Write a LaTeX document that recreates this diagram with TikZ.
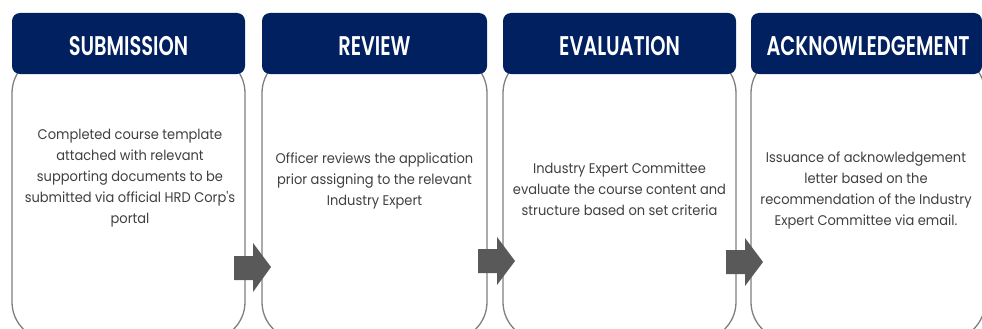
\documentclass[tikz,border=0pt]{standalone}
\usepackage{fontspec}
\setmainfont{Poppins}
\newfontfamily\headfont[FakeStretch=0.72]{Poppins SemiBold}
\newfontfamily\bodyfont[FakeStretch=0.93]{Poppins}
\definecolor{navy}{HTML}{002060}
\definecolor{boxline}{HTML}{7F7F7F}
\definecolor{arrowgray}{HTML}{595959}
\definecolor{txt}{HTML}{404040}
\tikzset{
  headtext/.style={text=white, font=\headfont\fontsize{27}{30}\selectfont, inner sep=0pt},
  headbox/.style={fill=navy, rounded corners=8pt},
  bodybox/.style={draw=boxline, line width=1.3pt, fill=white, rounded corners=38pt},
  bodytext/.style={align=center, text=txt, font=\bodyfont\fontsize{14}{21}\selectfont, inner sep=0pt},
  blockarrow/.style={fill=arrowgray}
}
\begin{document}
\begin{tikzpicture}[x=1pt,y=-1pt]
\useasboundingbox (0,0) rectangle (982,329);
\clip (0,0) rectangle (982,329);
\foreach \n/\l/\r/\br in {1/12/245/245, 2/262/487/487, 3/503/736/736, 4/751/982/985}{
  \draw[bodybox] (\l,55) rectangle (\br,340);
  \fill[headbox] (\l,13) rectangle (\r,74);
}
\node[headtext] (h1) at (128.5,46.5) {SUBMISSION};
\node[headtext] (h2) at (374.5,46.5) {REVIEW};
\node[headtext] (h3) at (619.5,46.5) {EVALUATION};
\node[headtext] (h4) at (868,46.5) {ACKNOWLEDGEMENT};
\node[bodytext] (t1) at (130,178) {Completed course template\\attached with relevant\\supporting documents to be\\submitted via official HRD Corp's\\portal};
\node[bodytext] (t2) at (374.5,181) {Officer reviews the application\\prior assigning to the relevant\\Industry Expert};
\node[bodytext] (t3) at (619.5,189) {Industry Expert Committee\\evaluate the course content and\\structure based on set criteria};
\node[bodytext] (t4) at (866,190) {Issuance of acknowledgement\\letter based on the\\recommendation of the Industry\\Expert Committee via email.};
\fill[blockarrow] (234,256) -- (253,256) -- (253,243) -- (271,267) -- (253,292) -- (253,280) -- (234,280) -- cycle;
\fill[blockarrow] (478,249) -- (497,249) -- (497,237) -- (515,261) -- (497,285) -- (497,273) -- (478,273) -- cycle;
\fill[blockarrow] (726,250) -- (745,250) -- (745,238) -- (763,262) -- (745,286) -- (745,274) -- (726,274) -- cycle;
\end{tikzpicture}
\end{document}
